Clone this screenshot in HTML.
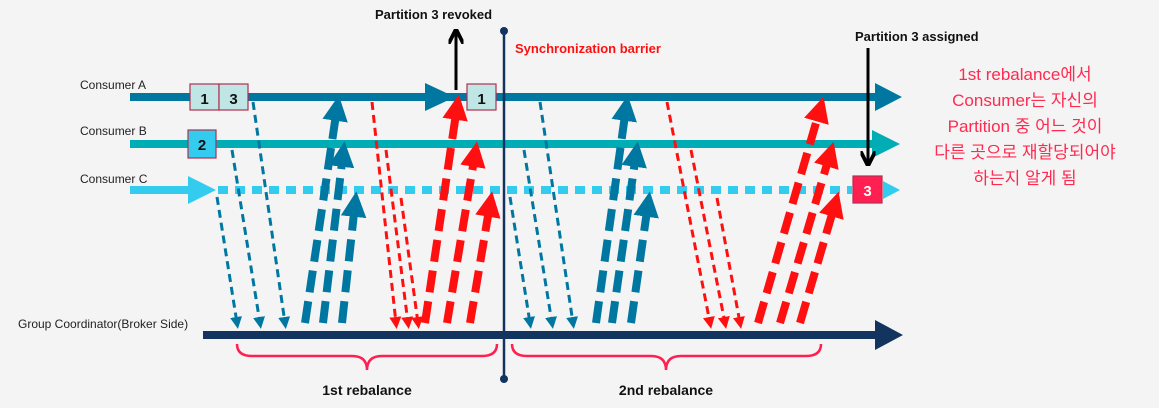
<!DOCTYPE html>
<html><head><meta charset="utf-8"><style>
body{margin:0;background:#f4f4f4;}
svg{display:block;font-family:"Liberation Sans","Noto Sans CJK KR",sans-serif;}
</style></head><body>
<svg id="d" width="1159" height="408" viewBox="0 0 1159 408" xmlns="http://www.w3.org/2000/svg">
<rect width="1159" height="408" fill="#f4f4f4"/>
<defs>
<marker id="mb" viewBox="0 0 10 10" refX="5" refY="5" markerWidth="3.2" markerHeight="3.2" orient="auto"><path d="M0,0L10,5L0,10z" fill="#0077a0"/></marker>
<marker id="mbs" viewBox="0 0 10 10" refX="5" refY="5" markerWidth="4" markerHeight="4" orient="auto"><path d="M0,0L10,5L0,10z" fill="#0077a0"/></marker>
<marker id="mr" viewBox="0 0 10 10" refX="5" refY="5" markerWidth="3.2" markerHeight="3.2" orient="auto"><path d="M0,0L10,5L0,10z" fill="#ff1010"/></marker>
<marker id="mrs" viewBox="0 0 10 10" refX="5" refY="5" markerWidth="4" markerHeight="4" orient="auto"><path d="M0,0L10,5L0,10z" fill="#ff1010"/></marker>
<marker id="mk" viewBox="0 0 10 10" refX="8" refY="5" markerWidth="5" markerHeight="5" orient="auto"><path d="M0,0L10,5L0,10" fill="none" stroke="#000" stroke-width="2.5"/></marker>
</defs>

<!-- consumer lines -->
<text x="80" y="89" font-size="12" fill="#222">Consumer A</text>
<text x="80" y="135" font-size="12" fill="#222">Consumer B</text>
<text x="80" y="183" font-size="12" fill="#222">Consumer C</text>
<text x="18" y="328" font-size="12" fill="#222">Group Coordinator(Broker Side)</text>

<g>
<rect x="130" y="93" width="748" height="8" fill="#0077a0"/>
<path d="M425,83 L455,97 L425,111z" fill="#0077a0"/>
<path d="M875,83 L902,97 L875,111z" fill="#0077a0"/>
</g>
<g>
<rect x="130" y="140" width="745" height="8" fill="#00adb5"/>
<path d="M872,130 L900,144 L872,158z" fill="#00adb5"/>
</g>
<g>
<rect x="130" y="186" width="62" height="8" fill="#33ccee"/>
<path d="M188,176 L216,190 L188,204z" fill="#33ccee"/>
<line x1="218" y1="190" x2="852" y2="190" stroke="#33ccee" stroke-width="8" stroke-dasharray="10,7"/>
<path d="M883,181 L900,190 L883,199z" fill="#33ccee"/>
</g>
<g>
<rect x="203" y="331" width="678" height="8" fill="#13345e"/>
<path d="M875,320 L903,335 L875,350z" fill="#13345e"/>
</g>

<!-- barrier -->
<g>
<line x1="504" y1="31" x2="504" y2="379" stroke="#13345e" stroke-width="2.5"/>
<circle cx="504" cy="31" r="4" fill="#13345e"/>
<circle cx="504" cy="379" r="4" fill="#13345e"/>
</g>
<text x="515" y="53" font-size="13" font-weight="bold" fill="#ff1010">Synchronization barrier</text>

<g id="arrows"></g>

<!-- partition boxes -->
<g><rect x="190" y="84" width="29" height="26" fill="#bfe6e4" stroke="#b03050" stroke-width="1.2"/><text x="204.5" y="104" font-size="15" font-weight="bold" text-anchor="middle" fill="#111">1</text></g>
<g><rect x="219" y="84" width="29" height="26" fill="#bfe6e4" stroke="#b03050" stroke-width="1.2"/><text x="233.5" y="104" font-size="15" font-weight="bold" text-anchor="middle" fill="#111">3</text></g>
<g><rect x="188" y="130" width="28" height="28" fill="#33ccee" stroke="#b03050" stroke-width="1.2"/><text x="202" y="150" font-size="15" font-weight="bold" text-anchor="middle" fill="#111">2</text></g>
<g><rect x="467" y="84" width="29" height="26" fill="#bfe6e4" stroke="#b03050" stroke-width="1.2"/><text x="481.5" y="104" font-size="15" font-weight="bold" text-anchor="middle" fill="#111">1</text></g>
<g><rect x="853" y="176" width="29" height="27" fill="#ff1f50" stroke="#b03050" stroke-width="1.2"/><text x="867.5" y="196" font-size="15" font-weight="bold" text-anchor="middle" fill="#fff">3</text></g>

<!-- revoke / assign -->
<text x="375" y="19" font-size="13" font-weight="bold" fill="#111">Partition 3 revoked</text>
<line x1="456" y1="90" x2="456" y2="32" stroke="#000" stroke-width="3" marker-end="url(#mk)"/>
<text x="855" y="41" font-size="13" font-weight="bold" fill="#111">Partition 3 assigned</text>
<line x1="868" y1="48" x2="868" y2="163" stroke="#000" stroke-width="3" marker-end="url(#mk)"/>

<!-- braces -->
<path d="M237,344 Q237,356 252,356 L352,356 Q367,356 367,370 Q367,356 382,356 L482,356 Q497,356 497,344" fill="none" stroke="#ff1f50" stroke-width="2.5"/>
<path d="M512,344 Q512,356 527,356 L651,356 Q666,356 666,370 Q666,356 681,356 L806,356 Q821,356 821,344" fill="none" stroke="#ff1f50" stroke-width="2.5"/>
<text x="367" y="395" font-size="14" font-weight="bold" text-anchor="middle" fill="#111">1st rebalance</text>
<text x="666" y="395" font-size="14" font-weight="bold" text-anchor="middle" fill="#111">2nd rebalance</text>

<g font-size="17" fill="#ff2a50" text-anchor="middle">
<text x="1025" y="80">1st rebalance에서</text>
<text x="1025" y="106">Consumer는 자신의</text>
<text x="1025" y="132">Partition 중 어느 것이</text>
<text x="1025" y="158">다른 곳으로 재할당되어야</text>
<text x="1025" y="184">하는지 알게 됨</text>
</g>
</svg>
<script>
// [x1, y1, x2, y2] thin requests (down) and thick responses (up)
const downArrows = [
 ["b",253,102,285,323],["b",232,150,260,323],["b",217,197,237,323],
 ["b",540,102,573,323],["b",524,150,552,323],["b",510,197,530,323],
 ["r",372,102,396,323],["r",386,150,408,323],["r",401,198,418,323],
 ["r",667,102,710,323],["r",691,150,725,323],["r",717,198,740,323]
];
const upArrows = [
 ["b",305,323,337,108],["b",323,323,343,154],["b",342,323,355,204],
 ["b",596,323,626,108],["b",612,323,636,154],["b",631,323,648,204],
 ["r",425,323,457,107],["r",447,323,475,154],["r",470,323,490,204],
 ["r",758,323,820,109],["r",780,323,830,154],["r",800,323,835,204]
];
const NS="http://www.w3.org/2000/svg";
const g=document.getElementById('arrows');
function draw(a,thick,i){
  const l=document.createElementNS(NS,'line');
  l.setAttribute('x1',a[1]);l.setAttribute('y1',a[2]);l.setAttribute('x2',a[3]);l.setAttribute('y2',a[4]);
  const col=a[0]==='b'?'#0077a0':'#ff1010';
  l.setAttribute('stroke',col);
  l.setAttribute('stroke-width',thick?8:3);
  l.setAttribute('stroke-dasharray',thick?'22,9':'8,5');
  l.setAttribute('marker-end','url(#'+a[0]+(thick?'m':'ms').replace(/^./,'m'+a[0])+')');
  l.setAttribute('marker-end', thick ? 'url(#m'+a[0]+')' : 'url(#m'+a[0]+'s)');
  
  
  g.appendChild(l);
}
downArrows.forEach((a,i)=>draw(a,false,i));
upArrows.forEach((a,i)=>draw(a,true,i));
</script>
</body></html>
